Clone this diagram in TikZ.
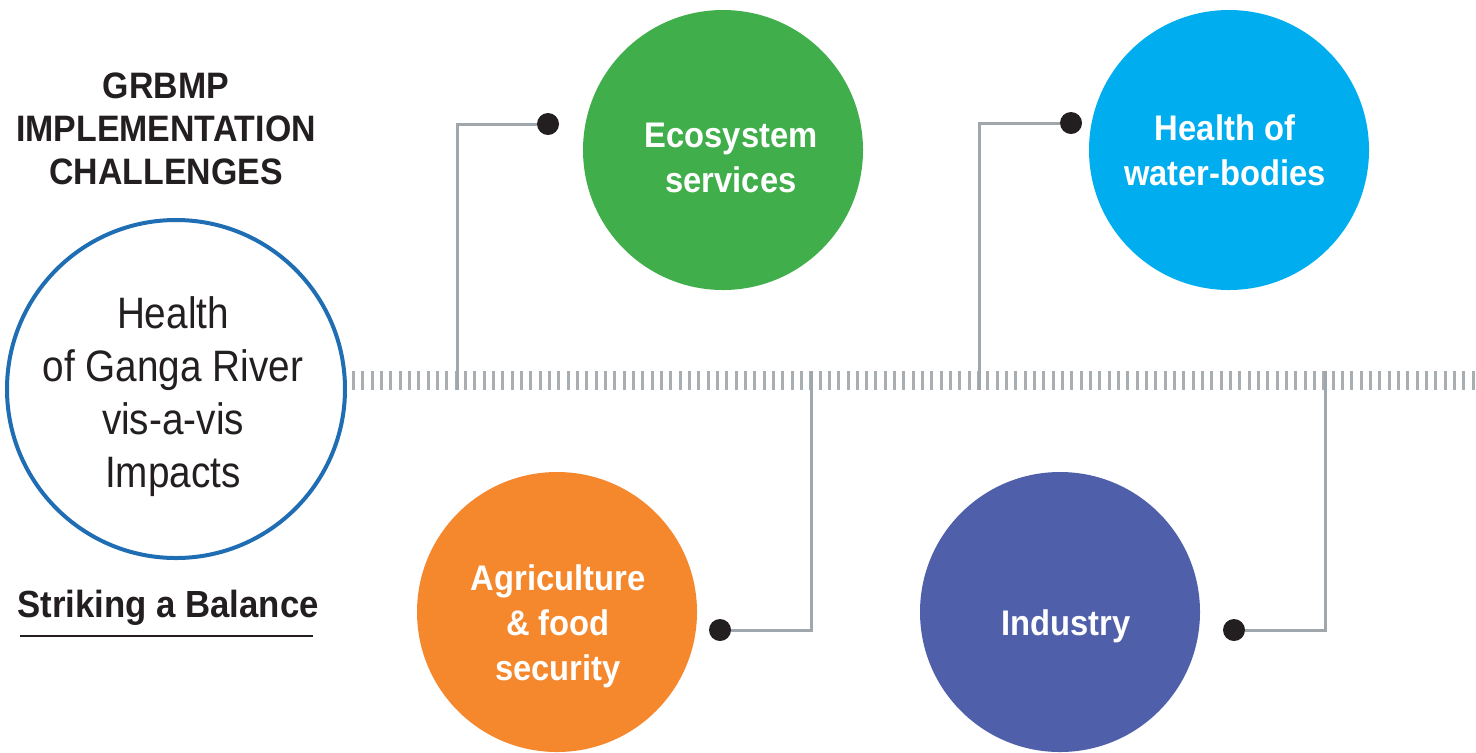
\documentclass[tikz,border=0pt]{standalone}
\usepackage{fontspec}
\setmainfont{Liberation Sans}
\newfontfamily\thinfont[FakeStretch=0.88]{Liberation Sans}
\newfontfamily\heavyfont[FakeStretch=0.92]{Liberation Sans}
\usetikzlibrary{positioning}
\definecolor{inkgrey}{HTML}{231F20}
\definecolor{linegrey}{HTML}{9FA7AC}
\definecolor{tickgrey}{HTML}{A8AEB2}
\definecolor{rivblue}{HTML}{1F6EB3}
\definecolor{ecogreen}{HTML}{40AE4A}
\definecolor{waterblue}{HTML}{00AEEF}
\definecolor{agriorange}{HTML}{F5872D}
\definecolor{induviolet}{HTML}{4F5FAA}
\tikzstyle{bubble} = [circle, minimum size=140pt, inner sep=0pt]
\tikzstyle{bubtext} = [text=white, align=center,
    font=\heavyfont\fontsize{17.8}{22.5}\selectfont\bfseries]
\tikzstyle{dot} = [circle, fill=inkgrey, minimum size=11pt, inner sep=0pt]
\tikzstyle{link} = [draw=linegrey, line width=1.5pt]

\begin{document}
\begin{tikzpicture}[x=0.5pt,y=-0.5pt]
  \useasboundingbox (0,0) rectangle (1476,752);

  \node[text=inkgrey, align=center, font=\heavyfont\fontsize{18.4}{21.5}\selectfont\bfseries]
        (title) at (166,129) {GRBMP\\IMPLEMENTATION\\CHALLENGES};
  \node[circle, draw=rivblue, line width=2pt, minimum size=169pt, inner sep=0pt]
        (river) at (176,389) {};
  \node[text=inkgrey, align=center, font=\thinfont\fontsize{22}{26.5}\selectfont]
        (rivertxt) at (173,397) {Health\\of Ganga River\\vis-a-vis\\Impacts};
  \node[text=inkgrey, font=\heavyfont\fontsize{18.9}{20}\selectfont\bfseries]
        (balance) at (168,608) {Striking a Balance};
  \coordinate (ulL) at (20,636);
  \coordinate (ulR) at (313,636);
  \draw[inkgrey, line width=0.8pt] (ulL) -- (ulR);

  \coordinate (axisL) at (352,380.5);
  \coordinate (axisR) at (1476,380.5);
  \draw[tickgrey, line width=9.5pt, dash pattern=on 1.5pt off 3.165pt] (axisL) -- (axisR);

  \node[bubble, fill=ecogreen]   (eco)   at (723,150) {};
  \node[bubble, fill=waterblue]  (water) at (1229,150) {};
  \node[bubble, fill=agriorange] (agri)  at (557,612) {};
  \node[bubble, fill=induviolet] (indu)  at (1060,612) {};

  \node[bubtext] (ecotxt)   at (731,158) {Ecosystem\\services};
  \node[bubtext] (watertxt) at (1225,150) {Health of\\water-bodies};
  \node[bubtext] (agritxt)  at (558,626) {Agriculture\\\& food\\security};
  \node[bubtext] (indutxt)  at (1066,626) {Industry};

  \coordinate (ecofoot)   at (457,390);
  \coordinate (waterfoot) at (979,390);
  \coordinate (agrifoot)  at (811,371);
  \coordinate (indufoot)  at (1325,371);

  \node[dot] (ecodot)   at (548,124) {};
  \node[dot] (waterdot) at (1071,123) {};
  \node[dot] (agridot)  at (720,630) {};
  \node[dot] (indudot)  at (1234,630) {};

  \path[link] (ecodot) -| (ecofoot)
              (waterdot) -| (waterfoot)
              (agridot) -| (agrifoot)
              (indudot) -| (indufoot);
\end{tikzpicture}
\end{document}
